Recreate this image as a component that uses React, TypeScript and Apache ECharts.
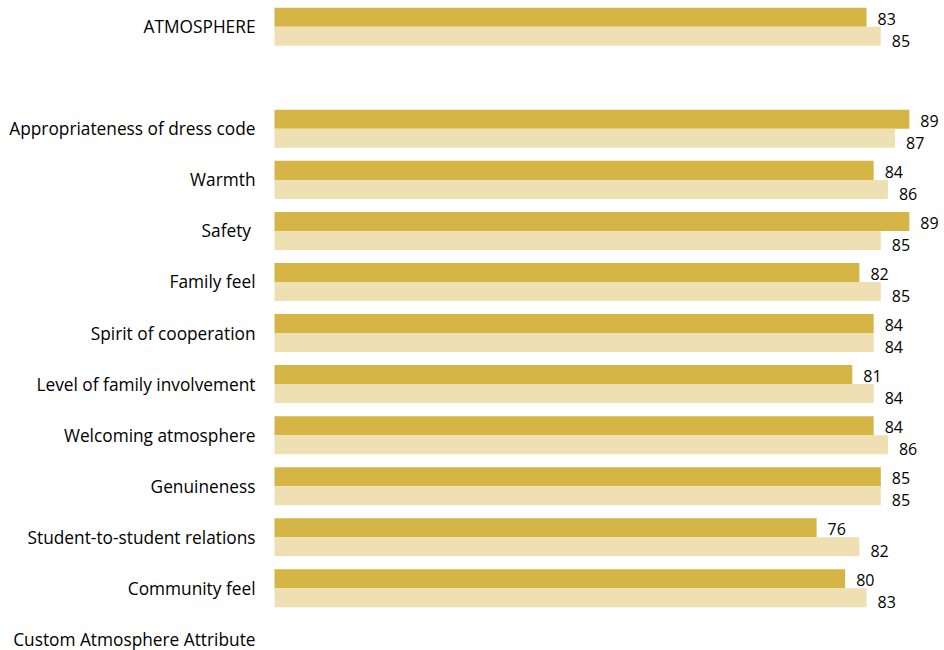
import React, { useEffect, useRef } from "react";
import * as echarts from "echarts";

const categories = [
  "ATMOSPHERE",
  "",
  "Appropriateness of dress code",
  "Warmth",
  "Safety ",
  "Family feel",
  "Spirit of cooperation",
  "Level of family involvement",
  "Welcoming atmosphere",
  "Genuineness",
  "Student-to-student relations",
  "Community feel",
  "Custom Atmosphere Attribute",
];
const seriesA = [83, null, 89, 84, 89, 82, 84, 81, 84, 85, 76, 80, null];
const seriesB = [85, null, 87, 86, 85, 85, 84, 84, 86, 85, 82, 83, null];

const FONT = "Open Sans";

export default function App() {
  const ref = useRef<HTMLDivElement>(null);
  useEffect(() => {
    if (!ref.current) return;
    const chart = echarts.init(ref.current, null, { renderer: "svg" });
    const label = (dy: number) => ({
      show: true,
      position: "right" as const,
      distance: 11,
      offset: [0, dy],
      color: "#000",
      fontFamily: FONT,
      fontSize: 16,
    });
    chart.setOption({
      animation: false,
      grid: {
        left: 274.5,
        top: 1.2,
        width: 713.3,
        height: 663.7,
        containLabel: false,
        outerBoundsMode: "none",
      },
      xAxis: {
        type: "value",
        min: 0,
        max: 100,
        show: false,
      },
      yAxis: {
        type: "category",
        inverse: true,
        data: categories,
        axisLine: { show: false },
        axisTick: { show: false },
        splitLine: { show: false },
        axisLabel: {
          margin: 19,
          color: "#000",
          fontFamily: FONT,
          fontSize: 17.3,
          interval: 0,
        },
      },
      series: [
        {
          type: "bar",
          data: seriesA,
          barGap: "0%",
          barCategoryGap: "25.5%",
          itemStyle: { color: "#D4B545" },
          label: label(1.5),
        },
        {
          type: "bar",
          data: seriesB,
          itemStyle: { color: "#EEE0B3" },
          label: label(4.5),
        },
      ],
    });
    return () => chart.dispose();
  }, []);
  return (
    <div style={{ position: "absolute", left: 0, top: 0, width: 944, height: 650, overflow: "hidden", background: "#fff" }}>
      <div ref={ref} style={{ width: 944, height: 680 }} />
    </div>
  );
}
